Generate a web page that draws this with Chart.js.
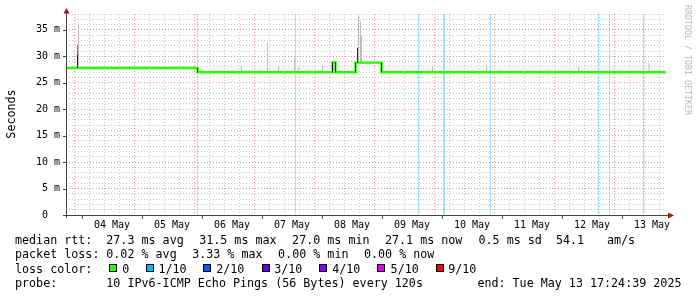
<!DOCTYPE html>
<html>
<head>
<meta charset="utf-8">
<script src="https://cdn.jsdelivr.net/npm/chart.js@4.4.1/dist/chart.umd.min.js"></script>
<style>
  body { margin: 0; background: #fff; }
  #wrap { position: relative; width: 697px; height: 297px; overflow: hidden; background: #fff; }
  #chart { position: absolute; left: 0; top: 0; }
  .t { position: absolute; font-family: "DejaVu Sans Mono", monospace; font-size: 11.7px; line-height: 14px; white-space: pre; color: #000; }
  .sw { position: absolute; width: 8px; height: 8px; box-sizing: border-box; border: 1px solid #000; top: 264px; }
  #ylab { left: -19.5px; top: 107px; width: 60px; text-align: center; transform: rotate(-90deg); }
  #wm { position: absolute; left: 627.5px; top: 55px; width: 120px; height: 10px; line-height: 10px; text-align: center;
        font-family: "DejaVu Sans Mono", monospace; font-size: 8.3px; color: #b8b8b8; white-space: pre; transform: rotate(90deg); }
</style>
</head>
<body>
<div id="wrap">
  <canvas id="chart" width="697" height="297"></canvas>
  <div class="t" id="ylab">Seconds</div>
  <div id="wm">RRDTOOL / TOBI OETIKER</div>

  <!-- summary lines -->
  <div class="t" style="left:15px;top:233.2px">median rtt:</div>
  <div class="t" style="left:106.3px;top:233.2px">27.3 ms avg</div>
  <div class="t" style="left:199.2px;top:233.2px">31.5 ms max</div>
  <div class="t" style="left:292.1px;top:233.2px">27.0 ms min</div>
  <div class="t" style="left:385px;top:233.2px">27.1 ms now</div>
  <div class="t" style="left:478.5px;top:233.2px">0.5 ms sd</div>
  <div class="t" style="left:556px;top:233.2px">54.1</div>
  <div class="t" style="left:607px;top:233.2px">am/s</div>

  <div class="t" style="left:15px;top:247.4px">packet loss:</div>
  <div class="t" style="left:106.3px;top:247.4px">0.02 % avg</div>
  <div class="t" style="left:192.2px;top:247.4px">3.33 % max</div>
  <div class="t" style="left:278.1px;top:247.4px">0.00 % min</div>
  <div class="t" style="left:364px;top:247.4px">0.00 % now</div>

  <div class="t" style="left:15px;top:261.6px">loss color:</div>
  <div class="sw" style="left:109px;background:#26ff00"></div>
  <div class="t" style="left:122.2px;top:261.6px">0</div>
  <div class="sw" style="left:146px;background:#00b8ff"></div>
  <div class="t" style="left:158.4px;top:261.6px">1/10</div>
  <div class="sw" style="left:203px;background:#0059ff"></div>
  <div class="t" style="left:216.2px;top:261.6px">2/10</div>
  <div class="sw" style="left:262px;background:#5e00ff"></div>
  <div class="t" style="left:274.2px;top:261.6px">3/10</div>
  <div class="sw" style="left:319px;background:#7e00ff"></div>
  <div class="t" style="left:332.2px;top:261.6px">4/10</div>
  <div class="sw" style="left:377px;background:#dd00ff"></div>
  <div class="t" style="left:390.6px;top:261.6px">5/10</div>
  <div class="sw" style="left:436px;background:#ff0000"></div>
  <div class="t" style="left:448.2px;top:261.6px">9/10</div>

  <div class="t" style="left:15px;top:275.8px">probe:</div>
  <div class="t" style="left:106.3px;top:275.8px">10 IPv6-ICMP Echo Pings (56 Bytes) every 120s</div>
  <div class="t" style="left:477.4px;top:275.8px">end: Tue May 13 17:24:39 2025</div>
</div>

<script>
// time axis in hours counted from 04 May 00:00
const xMin = -6.4;
const xMax = 233.6;
const yMax = 38;
const dayLabels = ['04 May', '05 May', '06 May', '07 May', '08 May', '09 May', '10 May', '11 May', '12 May', '13 May'];

// median rtt (ms), each value holds until the next time
const medianTimes = [-6.4, 46.2, 100.2, 101.4, 109.4, 119.8, 233.5];
const medianValues = [27.8, 27.0, 28.9, 27.0, 28.8, 27.0, 27.0];

// samples with 1/10 packet loss
const lossTimes = [46.2, 85.4, 134.6, 144.6, 145.0, 163.4, 206.6, 211.0, 224.6];

// ping spread (smoke), light part
const smokeTimes = [-1.4, 63.8, 74.2, 78.6, 85.0, 86.6, 96.2, 110.6, 111.4, 111.8, 140.2, 161.8, 198.6, 226.8];
const smokeLow = [27.8, 27.0, 27.0, 27.0, 27.0, 27.0, 27.0, 28.8, 28.8, 28.8, 27.0, 27.0, 27.0, 27.0];
const smokeHigh = [36.0, 28.1, 32.6, 28.1, 29.6, 28.0, 28.2, 37.7, 36.6, 34.0, 28.2, 28.4, 28.0, 28.7];

// middle part of the spread
const midTimes = [-1.8];
const midLow = [27.8];
const midHigh = [32.2];

// dense part of the spread
const darkTimes = [-1.8, 46.2, 100.2, 101.4, 109.4, 110.2, 119.8];
const darkLow = [27.8, 27.0, 27.0, 27.0, 27.0, 28.8, 27.0];
const darkHigh = [30.4, 27.8, 28.9, 28.9, 28.8, 31.6, 28.8];

const xTicks = [];
for (let h = -6; h <= 228; h += 6) xTicks.push(h);
const yTicks = [];
for (let v = 0; v <= yMax; v++) yTicks.push(v);

const minorGrid = '#c8c8c8';
const majorGrid = '#e49494';

const axesPlugin = {
    id: 'rrdAxes',
    afterDraw(chart) {
        const { ctx, chartArea: a, scales } = chart;
        const x = scales.x, y = scales.y;
        ctx.save();
        ctx.lineWidth = 1;
        ctx.strokeStyle = '#444';
        ctx.beginPath();
        x.ticks.forEach(t => {
            if (t.value % 24 === 0) {
                const px = Math.round(x.getPixelForValue(t.value)) + 0.5;
                ctx.moveTo(px, a.bottom); ctx.lineTo(px, a.bottom + 4);
            }
        });
        y.ticks.forEach(t => {
            if (t.value % 5 === 0) {
                const py = Math.round(y.getPixelForValue(t.value)) + 0.5;
                ctx.moveTo(a.left - 3, py); ctx.lineTo(a.left, py);
            }
        });
        ctx.moveTo(a.left - 3, a.bottom + 0.5); ctx.lineTo(a.right + 3, a.bottom + 0.5);
        ctx.moveTo(a.left + 0.5, a.bottom + 3); ctx.lineTo(a.left + 0.5, a.top - 1);
        ctx.stroke();

        // arrows
        ctx.fillStyle = '#a01818';
        ctx.beginPath();
        ctx.moveTo(a.left - 2.5, a.top - 0.5);
        ctx.lineTo(a.left + 3.5, a.top - 0.5);
        ctx.lineTo(a.left + 0.5, a.top - 6);
        ctx.closePath(); ctx.fill();
        ctx.beginPath();
        ctx.moveTo(a.right + 2, a.bottom - 2.5);
        ctx.lineTo(a.right + 2, a.bottom + 3.5);
        ctx.lineTo(a.right + 8, a.bottom + 0.5);
        ctx.closePath(); ctx.fill();
        ctx.restore();
    }
};

const barDefaults = { type: 'bar', barThickness: 1, grouped: false, inflateAmount: 0, borderWidth: 0 };

Chart.defaults.font.family = '"DejaVu Sans Mono", monospace';
Chart.defaults.font.size = 10;
Chart.defaults.color = '#000';

new Chart(document.getElementById('chart'), {
    type: 'line',
    data: {
        datasets: [
            Object.assign({
                label: 'dense',
                data: darkTimes.map((t, i) => ({ x: t, y: [darkLow[i], darkHigh[i]] })),
                backgroundColor: '#262626'
            }, barDefaults),
            {
                label: 'median rtt',
                data: medianTimes.map((t, i) => ({ x: t, y: medianValues[i] })),
                stepped: 'before',
                borderColor: '#26ff00',
                borderWidth: 2.4,
                pointRadius: 0,
                fill: false
            },
            Object.assign({
                label: 'spread',
                data: midTimes.map((t, i) => ({ x: t, y: [midLow[i], midHigh[i]] })),
                backgroundColor: '#7a7a7a'
            }, barDefaults),
            Object.assign({
                label: 'smoke',
                data: smokeTimes.map((t, i) => ({ x: t, y: [smokeLow[i], smokeHigh[i]] })),
                backgroundColor: '#bdbdbd'
            }, barDefaults),
            Object.assign({
                label: 'loss 1/10',
                data: lossTimes.map(t => ({ x: t, y: [0, yMax] })),
                backgroundColor: 'rgba(0,184,255,0.38)'
            }, barDefaults)
        ]
    },
    options: {
        responsive: false,
        animation: false,
        events: [],
        layout: { padding: { left: 0, right: 31, top: 14, bottom: 0 } },
        plugins: { legend: { display: false }, tooltip: { enabled: false } },
        scales: {
            x: {
                type: 'linear',
                min: xMin,
                max: xMax,
                offset: false,
                afterBuildTicks: s => { s.ticks = xTicks.map(v => ({ value: v })); },
                afterFit: s => { s.height = 82; },
                grid: {
                    color: c => (c.tick && c.tick.value % 24 === 0) ? majorGrid : minorGrid,
                    lineWidth: 1,
                    drawTicks: false
                },
                border: { display: false, dash: [1, 2] },
                ticks: {
                    autoSkip: false,
                    maxRotation: 0,
                    padding: 4,
                    callback: v => ((v - 12) % 24 === 0) ? dayLabels[(v - 12) / 24] : ''
                }
            },
            y: {
                type: 'linear',
                min: 0,
                max: yMax,
                afterBuildTicks: s => { s.ticks = yTicks.map(v => ({ value: v })); },
                afterFit: s => { s.width = 66; },
                grid: {
                    color: c => (c.tick && c.tick.value % 5 === 0) ? majorGrid : minorGrid,
                    lineWidth: 1,
                    drawTicks: false
                },
                border: { display: false, dash: [1, 2] },
                ticks: {
                    autoSkip: false,
                    padding: 6,
                    callback: v => v % 5 !== 0 ? '' : (v === 0 ? '0  ' : v + ' m')
                }
            }
        }
    },
    plugins: [axesPlugin]
});
</script>
</body>
</html>
